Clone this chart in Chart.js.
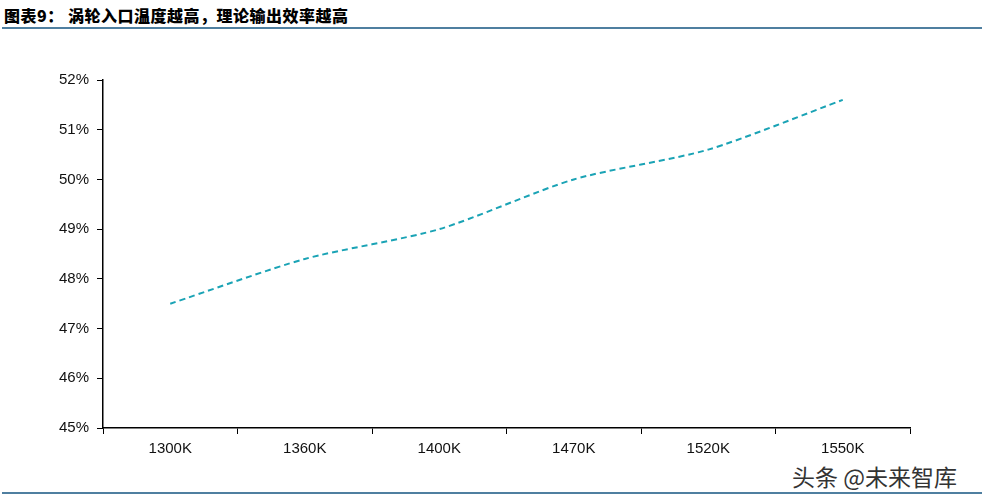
<!DOCTYPE html>
<html>
<head>
<meta charset="utf-8">
<script src="https://cdn.jsdelivr.net/npm/chart.js@4"></script>
<style>
  body { margin: 0; background: #fff; }
  #wrap { position: relative; width: 988px; height: 502px; overflow: hidden; }
  #title { position: absolute; left: 4px; top: 3px; font-family: "Noto Sans CJK SC"; font-weight: 900; font-size: 16px; color: #000; letter-spacing: 0.5px; }
  .rule { position: absolute; left: 2px; width: 980px; height: 2px; background: #4f7fa0; }
  #mark { position: absolute; left: 792px; top: 459px; font-family: "Noto Sans CJK SC"; font-size: 23px; color: #333; }
  canvas { position: absolute; left: 0; top: 0; }
</style>
</head>
<body>
<div id="wrap">
  <div id="title">图表9： 涡轮入口温度越高，理论输出效率越高</div>
  <div class="rule" style="top:27px"></div>
  <div class="rule" style="top:492px"></div>
  <div id="mark">头条 @未来智库</div>
  <canvas id="chartCanvas" width="988" height="502"></canvas>
</div>
<script>
// temperatures and efficiency (%)
const categories = ['1300K', '1360K', '1400K', '1470K', '1520K', '1550K'];
const efficiency = [47.5, 48.4, 49.0, 50.0, 50.6, 51.6];

const ctx = document.getElementById('chartCanvas').getContext('2d');
const chart = new Chart(ctx, {
    type: 'line',
    data: {
        labels: categories,
        datasets: [{
            data: efficiency,
            borderColor: '#1aa3b5',
            borderWidth: 2,
            borderDash: [6, 4],
            pointRadius: 0,
            tension: 0.25,
            fill: false
        }]
    },
    options: {
        responsive: false,
        animation: false,
        layout: { padding: { left: 0, top: 80, right: 78, bottom: 0 } },
        plugins: { legend: { display: false }, tooltip: { enabled: false } },
        scales: {
            x: {
                offset: true,
                afterFit: s => { s.height = 74; },
                grid: { offset: true, drawOnChartArea: false, tickLength: 6, color: '#000' },
                border: { color: '#000', width: 1.5 },
                ticks: { color: '#111', font: { family: 'Liberation Sans', size: 15 }, padding: 6 }
            },
            y: {
                min: 45, max: 52,
                afterFit: s => { s.width = 103; },
                grid: { drawOnChartArea: false, tickLength: 6, color: '#000' },
                border: { color: '#000', width: 1.5 },
                ticks: { stepSize: 1, color: '#111', font: { family: 'Liberation Sans', size: 15 }, padding: 8,
                         callback: v => v + '%' }
            }
        }
    }
});
</script>
</body>
</html>
